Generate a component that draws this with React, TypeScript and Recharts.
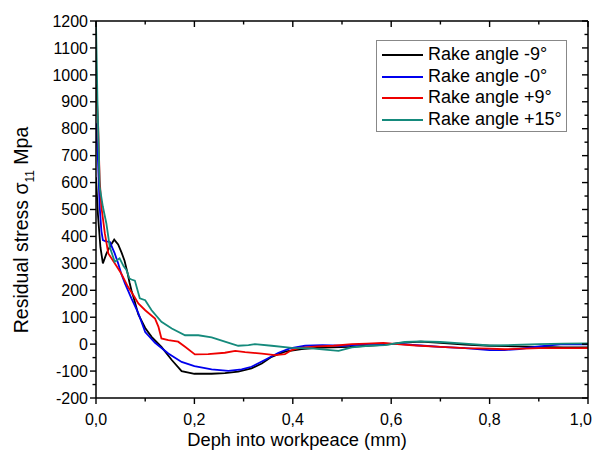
import React from 'react';
import { LineChart, Line, XAxis, YAxis, Legend, Label } from 'recharts';

const blackX = [0, 0.004, 0.009, 0.014, 0.021, 0.028, 0.037, 0.045, 0.052, 0.058, 0.064, 0.068, 0.072, 0.078, 0.086, 0.1, 0.113, 0.133, 0.154, 0.174, 0.2, 0.235, 0.262, 0.289, 0.316, 0.337, 0.357, 0.384, 0.418, 0.448, 0.48, 0.516, 0.55, 0.584, 0.62, 0.66, 0.7, 0.75, 0.8, 0.85, 0.9, 0.95, 1.0];
const blackY = [620, 480, 360, 300, 335, 362, 388, 370, 340, 310, 265, 230, 200, 163, 110, 60, 27, -10, -59, -100, -110, -110, -108, -102, -90, -72, -47, -28, -18, -14, -12, -10, -6, -3, 5, 9, 5, -2, -6, -8, -10, -12, -12];

const blueX = [0, 0.004, 0.0075, 0.011, 0.014, 0.02, 0.028, 0.038, 0.045, 0.051, 0.059, 0.065, 0.072, 0.086, 0.1, 0.12, 0.147, 0.174, 0.2, 0.235, 0.269, 0.296, 0.316, 0.343, 0.371, 0.394, 0.425, 0.46, 0.5, 0.55, 0.584, 0.62, 0.66, 0.7, 0.75, 0.8, 0.83, 0.86, 0.9, 0.95, 1.0];
const blueY = [820, 683, 510, 420, 386, 382, 380, 337, 300, 263, 225, 200, 170, 115, 45, 5, -35, -66, -82, -94, -99, -94, -84, -59, -32, -16, -6, -4, -6, 0, 2, 0, -5, -10, -15, -22, -22, -18, -8, 0, -1];

const redX = [0, 0.004, 0.0075, 0.011, 0.018, 0.025, 0.038, 0.051, 0.065, 0.078, 0.086, 0.1, 0.12, 0.127, 0.133, 0.147, 0.167, 0.181, 0.201, 0.228, 0.262, 0.283, 0.303, 0.337, 0.364, 0.384, 0.398, 0.415, 0.45, 0.483, 0.52, 0.55, 0.584, 0.618, 0.65, 0.7, 0.75, 0.8, 0.83, 0.87, 0.9, 0.95, 1.0];
const redY = [965, 832, 609, 510, 411, 337, 300, 263, 213, 176, 151, 126, 95, 64, 21, 15, 9, -10, -38, -37, -32, -25, -30, -35, -41, -37, -22, -14, -8, -6, 0, 2, 5, -1, -5, -10, -15, -17, -19, -17, -15, -15, -15];

const tealX = [0, 0.003, 0.0075, 0.014, 0.021, 0.028, 0.038, 0.048, 0.056, 0.062, 0.068, 0.072, 0.079, 0.089, 0.1, 0.113, 0.133, 0.154, 0.181, 0.208, 0.235, 0.262, 0.289, 0.31, 0.323, 0.357, 0.398, 0.438, 0.465, 0.493, 0.52, 0.554, 0.587, 0.628, 0.66, 0.7, 0.75, 0.8, 0.85, 0.9, 0.95, 1.0];
const tealY = [1195, 900, 584, 510, 449, 361, 306, 319, 290, 275, 244, 240, 236, 170, 163, 126, 83, 58, 33, 33, 25, 9, -6, -4, 0, -6, -14, -16, -20, -25, -12, -6, -4, 8, 10, 8, 2, -5, -3, 0, 2, 3];

const seriesNames = ['Rake angle -9°', 'Rake angle -0°', 'Rake angle +9°', 'Rake angle +15°'];
const seriesColors = ['#000000', '#0000ee', '#ee0000', '#158a7c'];

const xTicks = [0, 0.1, 0.2, 0.3, 0.4, 0.5, 0.6, 0.7, 0.8, 0.9, 1.0];
const yTicks = [-200, -150, -100, -50, 0, 50, 100, 150, 200, 250, 300, 350, 400, 450, 500, 550, 600, 650, 700, 750, 800, 850, 900, 950, 1000, 1050, 1100, 1150, 1200];

const zip = (xs: number[], ys: number[]) => xs.map((x, i) => ({ x, y: ys[i] }));
const seriesData = [zip(blackX, blackY), zip(blueX, blueY), zip(redX, redY), zip(tealX, tealY)];

const FONT = 'Arial, "Liberation Sans", sans-serif';
const TS = 6;
const TM = 2;

const isMajorX = (v: number) => Math.round(v * 10) % 2 === 0;
const isMajorY = (v: number) => Math.round(v) % 100 === 0;
const fmtX = (v: number) => v.toFixed(1).replace('.', ',');
const fmtY = (v: number) => String(Math.round(v));

function makeTick(orient: 'bottom' | 'top' | 'left' | 'right', labels: boolean) {
  return (props: any) => {
    const { x, y, payload } = props;
    const v = payload.value;
    const major = orient === 'bottom' || orient === 'top' ? isMajorX(v) : isMajorY(v);
    const len = major ? 6 : 3.5;
    const off = TS + TM;
    const stroke = { stroke: '#000', strokeWidth: 1.4 };
    if (orient === 'bottom') {
      const ay = y - off;
      const last = v >= 1;
      return (
        <g>
          <line x1={x} x2={x} y1={ay} y2={ay + len} {...stroke} />
          {labels && major ? (
            <text x={last ? x + 4 : x} y={ay + 21} dy="0.35em" textAnchor={last ? 'end' : 'middle'} fontSize={16} fontFamily={FONT} fill="#000">{fmtX(v)}</text>
          ) : null}
        </g>
      );
    }
    if (orient === 'top') {
      const ay = y - off;
      return <line x1={x} x2={x} y1={ay} y2={ay + len} {...stroke} />;
    }
    if (orient === 'left') {
      const ax = x + off;
      return (
        <g>
          <line x1={ax} x2={ax - len} y1={y} y2={y} {...stroke} />
          {labels && major ? (
            <text x={ax - 8} y={y} dy="0.355em" textAnchor="end" fontSize={16} fontFamily={FONT} fill="#000">{fmtY(v)}</text>
          ) : null}
        </g>
      );
    }
    const ax = x + off;
    return <line x1={ax} x2={ax - len} y1={y} y2={y} {...stroke} />;
  };
}

const YLabel = () => {
  const cy = 222;
  const cx = 13;
  return (
    <text x={cx} y={cy} transform={`rotate(-90, ${cx}, ${cy})`} textAnchor="middle" dy="0.35em" fontSize={19.5} fontFamily={FONT} fill="#000">
      Residual stress σ<tspan fontSize={12} dy="6">11</tspan><tspan dy="-6"> Mpa</tspan>
    </text>
  );
};

const XLabel = () => (
  <text x={289} y={432} dy="0.35em" textAnchor="middle" fontSize={18.3} fontFamily={FONT} fill="#000">
    Deph into workpeace (mm)
  </text>
);

const LegendBox = () => (
  <div style={{ border: '1px solid #888', background: '#fff', padding: '3px 4px 0px 5px', fontFamily: FONT, fontSize: 18, lineHeight: '21.7px' }}>
    {seriesNames.map((n, i) => (
      <div key={n} style={{ display: 'flex', alignItems: 'center', whiteSpace: 'nowrap' }}>
        <span style={{ display: 'inline-block', width: 41, height: 2, background: seriesColors[i], marginRight: 5 }} />
        <span>{n}</span>
      </div>
    ))}
  </div>
);

export default function App() {
  return (
    <div>
      <style>{'html,body{overflow:hidden}svg.recharts-surface{overflow:visible}.recharts-wrapper{overflow:visible}'}</style>
      <LineChart width={610} height={442} margin={{ top: 13, right: 30, bottom: 22, left: 28 }}>
        <XAxis xAxisId="b" type="number" dataKey="x" domain={[0, 1]} ticks={xTicks} interval={0} allowDataOverflow
          tickSize={TS} tickMargin={TM} tickLine={false} tick={makeTick('bottom', true)} height={30}
          axisLine={{ stroke: '#000', strokeWidth: 1.5 }}>
          <Label content={<XLabel />} />
        </XAxis>
        <XAxis xAxisId="t" orientation="top" type="number" dataKey="x" domain={[0, 1]} ticks={xTicks} interval={0} mirror allowDataOverflow
          tickSize={TS} tickMargin={TM} tickLine={false} tick={makeTick('top', false)} axisLine={{ stroke: '#000', strokeWidth: 1.5 }} />
        <YAxis yAxisId="l" type="number" dataKey="y" domain={[-200, 1200]} ticks={yTicks} interval={0} allowDataOverflow width={60}
          tickSize={TS} tickMargin={TM} tickLine={false} tick={makeTick('left', true)} axisLine={{ stroke: '#000', strokeWidth: 1.5 }}>
          <Label content={<YLabel />} />
        </YAxis>
        <YAxis yAxisId="r" orientation="right" type="number" dataKey="y" domain={[-200, 1200]} ticks={yTicks} interval={0} mirror allowDataOverflow
          tickSize={TS} tickMargin={TM} tickLine={false} tick={makeTick('right', false)} axisLine={{ stroke: '#000', strokeWidth: 1.5 }} />
        {seriesData.map((d, i) => (
          <Line key={seriesNames[i]} xAxisId="b" yAxisId="l" data={d} dataKey="y" name={seriesNames[i]} type="linear"
            stroke={seriesColors[i]} strokeWidth={1.8} dot={false} isAnimationActive={false} />
        ))}
        <Legend content={<LegendBox />} layout="horizontal" verticalAlign="middle" align="center"
          wrapperStyle={{ position: 'absolute', left: 368, top: 32, width: 'auto', height: 'auto' }} />
      </LineChart>
    </div>
  );
}
